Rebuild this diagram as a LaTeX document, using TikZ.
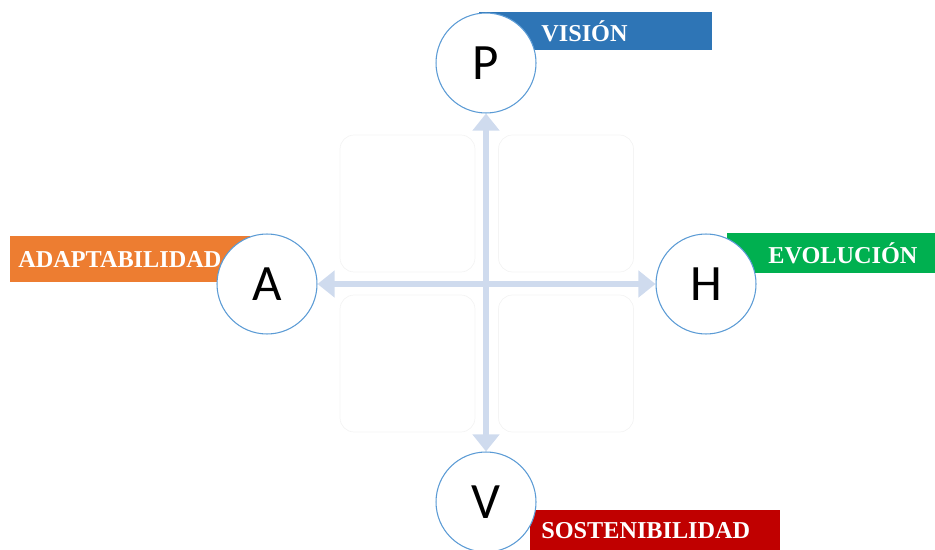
\documentclass[tikz,border=0pt]{standalone}
\usepackage{fontspec}
\setmainfont{Liberation Serif}
\newfontfamily\letterfont{Carlito}
\usepackage{tikz}
\usetikzlibrary{positioning,arrows.meta,calc}
\definecolor{visionblue}{HTML}{2E75B6}
\definecolor{adaptorange}{HTML}{ED7D31}
\definecolor{evolgreen}{HTML}{00B050}
\definecolor{sostred}{HTML}{C00000}
\definecolor{ringblue}{HTML}{5B9BD5}
\definecolor{axisblue}{HTML}{CFDBEE}
\definecolor{boxgray}{HTML}{F4F4F4}

\begin{document}
\begin{tikzpicture}[
    x=0.02cm, y=-0.02cm,
    circleStyle/.style={
        circle, draw=ringblue, fill=white, line width=0.6pt, minimum size=2cm, inner sep=0pt,
        font=\letterfont\fontsize{29}{31}\selectfont
    },
    bannerStyle/.style={
        rectangle, anchor=north west, inner ysep=0pt, align=left, text=white,
        font=\bfseries\fontsize{13.8}{15}\selectfont
    },
    quadStyle/.style={
        rectangle, rounded corners=8pt, draw=boxgray, fill=white,
        minimum width=2.7cm, minimum height=2.74cm
    },
    axisArrow/.style={
        {Triangle[width=0.52cm,length=0.34cm]}-{Triangle[width=0.52cm,length=0.34cm]},
        line width=0.12cm, draw=axisblue
    }
]
    \useasboundingbox (0,0) rectangle (935,550);

    % Quadrants
    \node[quadStyle] (q1) at (407.5,203.5) {};
    \node[quadStyle] (q2) at (566,203.5) {};
    \node[quadStyle] (q3) at (407.5,363.5) {};
    \node[quadStyle] (q4) at (566,363.5) {};

    % Banners
    \node[bannerStyle, fill=visionblue, inner xsep=1.24cm, text width=2.18cm,
          minimum height=0.76cm] (bVision) at (479,12) {VISIÓN};
    \node[bannerStyle, fill=adaptorange, inner xsep=0.16cm, text width=4.48cm,
          minimum height=0.92cm] (bAdapt) at (10,236) {ADAPTABILIDAD};
    \node[bannerStyle, fill=evolgreen, inner xsep=0.82cm, text width=2.52cm,
          minimum height=0.8cm] (bEvol) at (727,233) {EVOLUCIÓN};
    \node[bannerStyle, fill=sostred, inner xsep=0.22cm, text width=4.56cm,
          minimum height=0.8cm] (bSost) at (530,510) {SOSTENIBILIDAD};

    % Circles
    \node[circleStyle] (P) at (486,63) {P};
    \node[circleStyle] (A) at (267,284) {A};
    \node[circleStyle] (H) at (706,284) {H};
    \node[circleStyle] (V) at (486,502) {V};

    % Arrows
    \draw[axisArrow] (P) -- (V);
    \draw[axisArrow] (A) -- (H);
\end{tikzpicture}
\end{document}
